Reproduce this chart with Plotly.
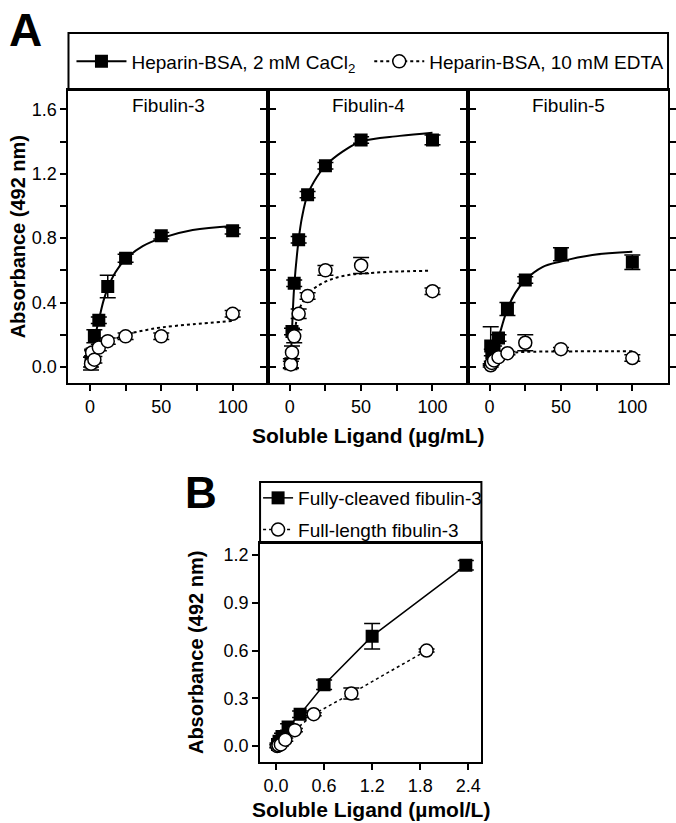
import plotly.graph_objects as go

# ---------------- data ----------------
conc = [0.78, 1.56, 3.125, 6.25, 12.5, 25, 50, 100]
panel_titles = ["Fibulin-3", "Fibulin-4", "Fibulin-5"]

ca_fib3 = [0.03, 0.08, 0.19, 0.29, 0.50, 0.675, 0.815, 0.845]
ca_fib3_err = [0.03, 0.02, 0.04, 0.02, 0.07, 0.025, 0.02, 0.02]
edta_fib3 = [0.02, 0.09, 0.045, 0.12, 0.16, 0.19, 0.19, 0.33]
edta_fib3_err = [0.04, 0.02, 0.02, 0.02, 0.02, 0.02, 0.02, 0.02]

ca_fib4 = [0.02, 0.22, 0.52, 0.79, 1.07, 1.25, 1.41, 1.41]
ca_fib4_err = [0.03, 0.02, 0.02, 0.02, 0.02, 0.02, 0.02, 0.03]
edta_fib4 = [0.015, 0.09, 0.19, 0.33, 0.44, 0.60, 0.63, 0.47]
edta_fib4_err = [0.02, 0.04, 0.04, 0.03, 0.02, 0.03, 0.05, 0.02]

ca_fib5 = [0.13, 0.09, 0.11, 0.18, 0.36, 0.54, 0.70, 0.65]
ca_fib5_err = [0.12, 0.02, 0.02, 0.02, 0.04, 0.02, 0.04, 0.045]
edta_fib5 = [0.01, 0.025, 0.04, 0.06, 0.085, 0.15, 0.11, 0.055]
edta_fib5_err = [0.01, 0.01, 0.01, 0.01, 0.01, 0.05, 0.01, 0.02]

# fitted curves
fit_ca_fib3_x = [0.78, 3.125, 6.25, 9.5, 12.5, 18, 25, 37, 50, 72, 100]
fit_ca_fib3_y = [0.05, 0.17, 0.29, 0.41, 0.49, 0.59, 0.67, 0.75, 0.80, 0.85, 0.875]
fit_edta_fib3_x = [0.78, 3.125, 6.25, 12.5, 17, 25, 37, 50, 72, 100]
fit_edta_fib3_y = [0.03, 0.07, 0.11, 0.15, 0.17, 0.20, 0.225, 0.245, 0.265, 0.285]

fit_ca_fib4_x = [0.78, 1.56, 3.125, 6.25, 8.6, 12.5, 19, 25, 37.5, 50, 77, 100]
fit_ca_fib4_y = [0.05, 0.22, 0.50, 0.79, 0.93, 1.07, 1.18, 1.25, 1.34, 1.40, 1.435, 1.455]
fit_edta_fib4_x = [0.78, 1.56, 3.125, 6.25, 9, 12.5, 19, 30, 42, 54, 77, 99]
fit_edta_fib4_y = [0.04, 0.10, 0.20, 0.35, 0.40, 0.45, 0.50, 0.547, 0.572, 0.582, 0.593, 0.597]

fit_ca_fib5_x = [1.56, 3.125, 6.25, 12.5, 18, 25, 37, 50, 72, 100]
fit_ca_fib5_y = [0.04, 0.09, 0.18, 0.36, 0.46, 0.54, 0.62, 0.655, 0.695, 0.715]
fit_edta_fib5_x = [0.78, 3.125, 6.25, 12.5, 25, 50, 100]
fit_edta_fib5_y = [0.01, 0.05, 0.07, 0.085, 0.093, 0.096, 0.097]

# panel B
cleaved_x = [0.018, 0.037, 0.074, 0.15, 0.30, 0.60, 1.20, 2.37]
cleaved_y = [0.01, 0.03, 0.06, 0.12, 0.20, 0.385, 0.69, 1.135]
cleaved_err = [0.01, 0.01, 0.02, 0.02, 0.02, 0.03, 0.08, 0.03]
full_x = [0.015, 0.03, 0.06, 0.115, 0.235, 0.47, 0.94, 1.88]
full_y = [0.0, 0.005, 0.01, 0.04, 0.10, 0.20, 0.33, 0.60]
full_err = [0.01, 0.01, 0.01, 0.01, 0.01, 0.01, 0.035, 0.01]

ticks_A_x = [0, 50, 100]
ticks_A_x_text = ["0", "50", "100"]
minor_A_x = [25, 75]
ticks_A_y = [0, 0.4, 0.8, 1.2, 1.6]
ticks_A_y_text = ["0.0", "0.4", "0.8", "1.2", "1.6"]
minor_A_y = [0.2, 0.6, 1.0, 1.4]
ticks_B_x = [0, 0.6, 1.2, 1.8, 2.4]
ticks_B_x_text = ["0.0", "0.6", "1.2", "1.8", "2.4"]
ticks_B_y = [0, 0.3, 0.6, 0.9, 1.2]
ticks_B_y_text = ["0.0", "0.3", "0.6", "0.9", "1.2"]

# ---------------- layout helpers ----------------
W, H = 676, 823
FONT = "Liberation Sans, Arial, Helvetica, sans-serif"


def px(x):
    return x / W


def py(y):
    return 1 - y / H


ca_vals = [ca_fib3, ca_fib4, ca_fib5]
ca_errs = [ca_fib3_err, ca_fib4_err, ca_fib5_err]
edta_vals = [edta_fib3, edta_fib4, edta_fib5]
edta_errs = [edta_fib3_err, edta_fib4_err, edta_fib5_err]
fits_ca = [(fit_ca_fib3_x, fit_ca_fib3_y), (fit_ca_fib4_x, fit_ca_fib4_y), (fit_ca_fib5_x, fit_ca_fib5_y)]
fits_edta = [(fit_edta_fib3_x, fit_edta_fib3_y), (fit_edta_fib4_x, fit_edta_fib4_y),
             (fit_edta_fib5_x, fit_edta_fib5_y)]

fig = go.Figure()

A_left, A_right = 69, 673
A_top, A_bottom = 90, 383
pw = (A_right - A_left) / 3.0

axis_common = dict(showline=True, linewidth=2, linecolor="black", ticks="outside", ticklen=6,
                   tickwidth=2, tickcolor="black", showgrid=False, zeroline=False,
                   tickfont=dict(family=FONT, size=18, color="black"))
minor_common = dict(ticks="outside", ticklen=6, tickwidth=2, tickcolor="black", showgrid=False)

err_style = dict(type="data", thickness=1.5, width=8, color="black")

for i in range(3):
    xn = "x" if i == 0 else f"x{i+1}"
    yn = "y" if i == 0 else f"y{i+1}"
    xk = "xaxis" if i == 0 else f"xaxis{i+1}"
    yk = "yaxis" if i == 0 else f"yaxis{i+1}"
    fig.layout[xk] = dict(domain=[px(A_left + i * pw), px(A_left + (i + 1) * pw)], range=[-15, 125],
                          tickmode="array", tickvals=ticks_A_x, ticktext=ticks_A_x_text,
                          minor=dict(tickmode="array", tickvals=minor_A_x, **minor_common),
                          mirror=True, anchor=yn, **axis_common)
    fig.layout[yk] = dict(domain=[py(A_bottom), py(A_top)], range=[-0.1, 1.72],
                          tickmode="array", tickvals=ticks_A_y, ticktext=ticks_A_y_text,
                          minor=dict(tickmode="array", tickvals=minor_A_y, **minor_common),
                          showticklabels=(i == 0), mirror="ticks", anchor=xn, **axis_common)
    fx, fy = fits_ca[i]
    fig.add_trace(go.Scatter(x=fx, y=fy, mode="lines", line=dict(color="black", width=2, shape="spline"),
                             xaxis=xn, yaxis=yn, showlegend=False, hoverinfo="skip"))
    fx, fy = fits_edta[i]
    fig.add_trace(go.Scatter(x=fx, y=fy, mode="lines",
                             line=dict(color="black", width=2, dash="dot", shape="spline"),
                             xaxis=xn, yaxis=yn, showlegend=False, hoverinfo="skip"))
    fig.add_trace(go.Scatter(x=conc, y=ca_vals[i], mode="markers",
                             marker=dict(symbol="square", size=13, color="black"),
                             error_y=dict(array=ca_errs[i], **err_style),
                             xaxis=xn, yaxis=yn, showlegend=False))
    fig.add_trace(go.Scatter(x=conc, y=edta_vals[i], mode="markers",
                             marker=dict(symbol="circle", size=13, color="white",
                                         line=dict(color="black", width=1.5)),
                             error_y=dict(array=edta_errs[i], **err_style),
                             xaxis=xn, yaxis=yn, showlegend=False))

# legend entries for panel A (legend-only entries, no data)
fig.add_trace(go.Scatter(x=[None], y=[None], mode="lines+markers", name="Heparin-BSA, 2 mM CaCl<sub>2</sub>",
                         line=dict(color="black", width=2),
                         marker=dict(symbol="square", size=13, color="black"), legend="legend"))
fig.add_trace(go.Scatter(x=[None], y=[None], mode="lines+markers", name="Heparin-BSA, 10 mM EDTA",
                         line=dict(color="black", width=2, dash="dot"),
                         marker=dict(symbol="circle", size=13, color="white", line=dict(color="black", width=1.5)),
                         legend="legend3"))

# panel B
B_left, B_right, B_top, B_bottom = 262, 485, 543, 762
fig.layout["xaxis4"] = dict(domain=[px(B_left), px(B_right)], range=[-0.2, 2.565], tickmode="array",
                            tickvals=ticks_B_x, ticktext=ticks_B_x_text, mirror=True, anchor="y4", **axis_common)
fig.layout["yaxis4"] = dict(domain=[py(B_bottom), py(B_top)], range=[-0.1, 1.275], tickmode="array",
                            tickvals=ticks_B_y, ticktext=ticks_B_y_text, mirror=True, anchor="x4", **axis_common)

fig.add_trace(go.Scatter(x=cleaved_x, y=cleaved_y, mode="lines+markers", name="Fully-cleaved fibulin-3",
                         line=dict(color="black", width=1.5),
                         marker=dict(symbol="square", size=13, color="black"),
                         error_y=dict(array=cleaved_err, **err_style),
                         xaxis="x4", yaxis="y4", legend="legend2", legendgroup="g1"))
fig.add_trace(go.Scatter(x=full_x, y=full_y, mode="lines+markers", name="Full-length fibulin-3",
                         line=dict(color="black", width=1.5, dash="dot"),
                         marker=dict(symbol="circle", size=13, color="white", line=dict(color="black", width=1.5)),
                         error_y=dict(array=full_err, **err_style),
                         xaxis="x4", yaxis="y4", legend="legend2", legendgroup="g2"))

shapes = [
    dict(type="rect", xref="paper", yref="paper", x0=px(A_left), x1=px(A_right), y0=py(A_top), y1=py(33),
         line=dict(color="black", width=2)),
    dict(type="rect", xref="paper", yref="paper", x0=px(B_left), x1=px(B_right), y0=py(B_top), y1=py(482),
         line=dict(color="black", width=2)),
]

ann = []


def add_text(text, x, y, size, bold=False, angle=0):
    ann.append(dict(text=f"<b>{text}</b>" if bold else text, x=px(x), y=py(y), xref="paper", yref="paper",
                    showarrow=False, xanchor="center", yanchor="middle", textangle=angle,
                    font=dict(family=FONT, size=size, color="black")))


add_text("A", 26, 30, 46, bold=True)
add_text("B", 203, 493, 44, bold=True)
for i, t in enumerate(panel_titles):
    add_text(t, A_left + (i + 0.5) * pw, 105, 19)
add_text("Absorbance (492 nm)", 18, (A_top + A_bottom) / 2, 20, bold=True, angle=-90)
add_text("Soluble Ligand (µg/mL)", (A_left + A_right) / 2, 435, 21, bold=True)
add_text("Absorbance (492 nm)", 197, (B_top + B_bottom) / 2, 20, bold=True, angle=-90)
add_text("Soluble Ligand (µmol/L)", (B_left + B_right) / 2, 809, 21, bold=True)

leg_common = dict(font=dict(family=FONT, size=19, color="black"), bgcolor="rgba(0,0,0,0)", borderwidth=0)

fig.update_layout(
    width=W, height=H, margin=dict(l=0, r=0, t=0, b=0),
    paper_bgcolor="white", plot_bgcolor="white",
    font=dict(family=FONT, color="black"),
    shapes=shapes, annotations=ann,
    legend=dict(orientation="h", x=px(72), y=py(61.5), xanchor="left", yanchor="middle",
                itemwidth=50, **leg_common),
    legend3=dict(orientation="h", x=px(372), y=py(61.5), xanchor="left", yanchor="middle",
                 itemwidth=50, **leg_common),
    legend2=dict(orientation="v", x=px(260), y=py(479), xanchor="left", yanchor="top",
                 itemwidth=30, tracegroupgap=4, **leg_common),
)

fig.write_html("out.html", config={"displayModeBar": False},
               post_script="document.body.style.margin='0';")
